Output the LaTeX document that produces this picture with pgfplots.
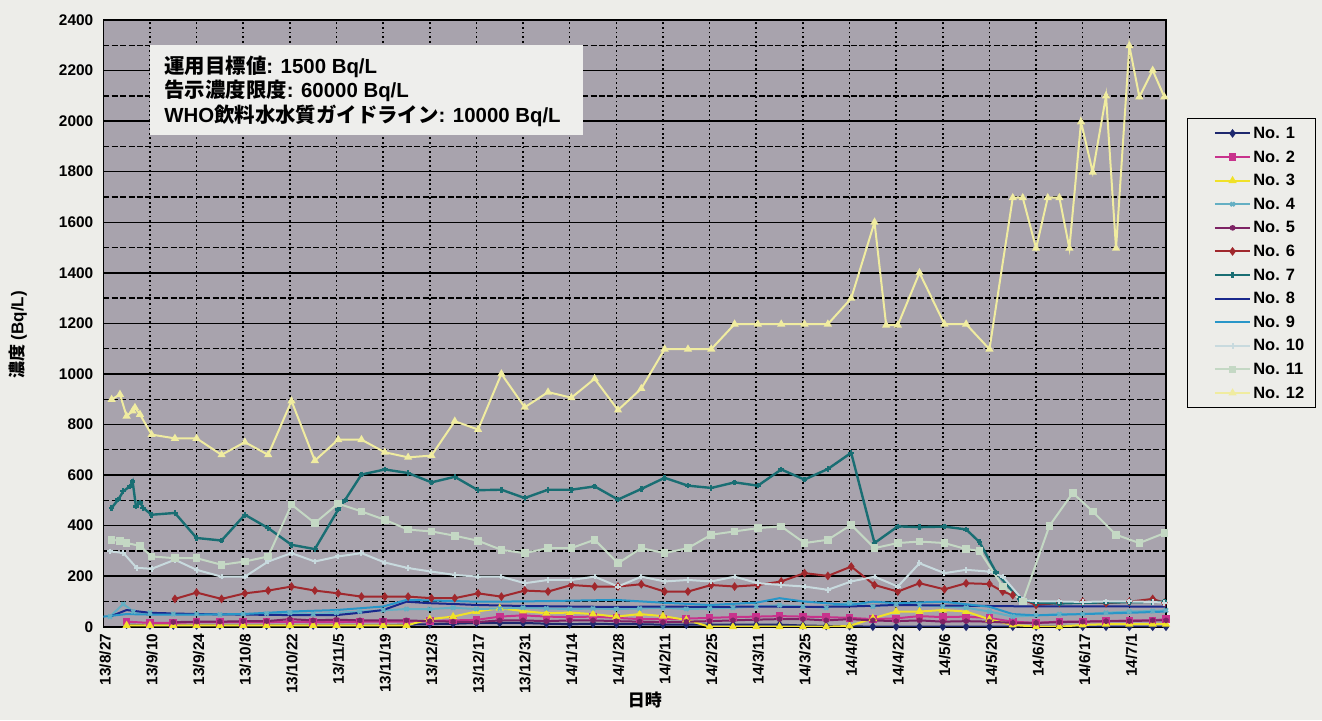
\documentclass[border=0pt]{standalone}
\usepackage{pgfplots}
\pgfplotsset{compat=1.18}
\usepackage{fontspec}
\setmainfont{Liberation Sans}
\newfontfamily\cjk{Noto Sans CJK JP}
\definecolor{paper}{RGB}{237,237,233}
\definecolor{plotbg}{RGB}{168,163,173}
\definecolor{boxbg}{RGB}{238,238,236}
\definecolor{cA}{RGB}{30,40,110}
\definecolor{cB}{RGB}{200,50,140}
\definecolor{cC}{RGB}{240,225,40}
\definecolor{cD}{RGB}{100,175,195}
\definecolor{cE}{RGB}{125,35,100}
\definecolor{cF}{RGB}{160,40,45}
\definecolor{cG}{RGB}{25,110,115}
\definecolor{cH}{RGB}{25,40,140}
\definecolor{cI}{RGB}{40,150,200}
\definecolor{cJ}{RGB}{200,218,222}
\definecolor{cK}{RGB}{196,216,196}
\definecolor{cL}{RGB}{240,236,160}
\begin{document}
\begin{tikzpicture}
\path[use as bounding box, fill=paper] (0,0) rectangle (661pt,-360pt);
\begin{axis}[
  at={(51.65pt,-313.35pt)}, anchor=south west,
  scale only axis, width=531.35pt, height=303.35pt,
  xmin=0, xmax=319, ymin=0, ymax=2400,
  axis background/.style={fill=plotbg},
  axis line style={black, line width=0.8pt},
  xtick={0,14,...,308},
  xticklabels={13/8/27,13/9/10,13/9/24,13/10/8,13/10/22,13/11/5,13/11/19,13/12/3,13/12/17,13/12/31,14/1/14,14/1/28,14/2/11,14/2/25,14/3/11,14/3/25,14/4/8,14/4/22,14/5/6,14/5/20,14/6/3,14/6/17,14/7/1},
  ytick={0,200,...,2400},
  minor y tick num=1,
  major tick length=0pt, minor tick length=0pt,
  ymajorgrids, yminorgrids, xmajorgrids,
  major grid style={black, line width=0.7pt},
  minor grid style={black, line width=0.65pt, dash pattern=on 3pt off 1.2pt},
  x grid style={black, line width=0.75pt, dash pattern=on 0.9pt off 1.4pt},
  scaled ticks=false,
  /pgf/number format/1000 sep={},
  /pgf/number format/assume math mode=true,
  tick label style={font=\bfseries\fontsize{7.7}{8}\selectfont},
  xticklabel style={rotate=90, anchor=east, yshift=-1pt},
  yticklabel style={xshift=-1.5pt},
  xlabel={\cjk\bfseries 日時},
  ylabel={{\cjk\bfseries 濃度} \bfseries(Bq/L)},
  label style={font=\fontsize{8.5}{9}\selectfont},
  xlabel style={at={(axis description cs:0.5097,-0.1208)}, anchor=center},
  ylabel style={at={(axis description cs:-0.0803,0.481)}, anchor=center, rotate=0},
  legend style={at={(axis description cs:1.0198,0.8385)}, anchor=north west,
    draw=black, line width=0.6pt, fill=paper, inner xsep=4.5pt, inner ysep=1.5pt,
    font=\bfseries\fontsize{8.2}{9}\selectfont,
    nodes={text height=6pt, text depth=1pt, inner ysep=2.4pt, inner xsep=1pt},
    row sep=0pt},
  legend cell align=left,
  legend image code/.code={\path (-0.3cm,0cm);
    \draw[mark repeat=2,mark phase=2,#1] plot coordinates {(0cm,0cm) (0.31cm,0cm) (0.62cm,0cm)};},
  every axis plot/.append style={line width=1pt, mark size=1.4pt},
]
% No. 1
\addplot[cA, mark=diamond*] coordinates {(7,8)(14,5)(21,5)(28,5)(35,5)(42,5)(49,5)(56,5)(63,5)(70,5)(77,5)(84,5)(91,8)(98,10)(105,12)(112,15)(119,15)(126,15)(133,12)(140,10)(147,12)(154,10)(161,10)(168,8)(175,8)(182,8)(189,8)(196,8)(203,8)(210,5)(217,3)(224,2)(231,0)(238,0)(245,0)(252,0)(259,0)(266,0)(273,0)(280,0)(287,0)(294,0)(301,0)(308,0)(315,0)(319,0)};
% No. 2
\addplot[cB, mark=square*] coordinates {(7,20)(14,15)(21,15)(28,18)(35,18)(42,18)(49,18)(56,20)(63,18)(70,18)(77,20)(84,20)(91,20)(98,22)(105,25)(112,27)(119,40)(126,45)(133,40)(140,38)(147,40)(154,35)(161,30)(168,30)(175,32)(182,35)(189,38)(196,40)(203,42)(210,40)(217,38)(224,35)(231,30)(238,33)(245,42)(252,38)(259,40)(266,34)(273,20)(280,15)(287,20)(294,20)(301,22)(308,25)(315,25)(319,30)};
% No. 3
\addplot[cC, mark=triangle*] coordinates {(7,5)(14,5)(21,5)(28,5)(35,5)(42,5)(49,5)(56,5)(63,5)(70,5)(77,5)(84,5)(91,5)(98,30)(105,40)(112,60)(119,73)(126,62)(133,53)(140,56)(147,50)(154,40)(161,50)(168,42)(175,27)(182,0)(189,0)(196,0)(203,0)(210,0)(217,0)(224,3)(231,33)(238,60)(245,60)(252,66)(259,60)(266,29)(273,7)(280,0)(287,0)(294,7)(301,10)(308,10)(315,10)(319,10)};
% No. 4
\addplot[cD, mark=x] coordinates {(2,40)(6,90)(9,60)(14,55)(21,50)(28,50)(35,48)(42,50)(49,52)(56,55)(63,50)(70,55)(77,60)(84,65)(91,70)(98,70)(105,75)(112,70)(119,72)(126,75)(133,72)(140,70)(147,72)(154,70)(161,72)(168,75)(175,70)(182,72)(189,75)(196,80)(203,85)(210,80)(217,75)(224,95)(231,80)(238,90)(245,85)(252,80)(259,75)(266,60)(273,40)(280,45)(287,50)(294,50)(301,55)(308,60)(315,62)(319,65)};
% No. 5
\addplot[cE, mark=asterisk] coordinates {(21,18)(28,20)(35,20)(42,22)(49,22)(56,30)(63,25)(70,28)(77,25)(84,25)(91,25)(98,22)(105,20)(112,18)(119,25)(126,25)(133,22)(140,25)(147,25)(154,22)(161,20)(168,18)(175,20)(182,22)(189,25)(196,28)(203,30)(210,30)(217,25)(224,30)(231,25)(238,22)(245,25)(252,20)(259,22)(266,20)(273,15)(280,15)(287,18)(294,20)(301,22)(308,22)(315,25)(319,25)};
% No. 6
\addplot[cF, mark=diamond*] coordinates {(21.5,110)(28,135)(35.5,110)(42.5,132)(49.5,143)(56.5,159)(63.5,143)(70.5,132)(77.5,119)(84.5,119)(91.5,119)(98.5,113)(105.5,113)(112.5,132)(119.5,119)(126.5,143)(133.5,139)(140.5,165)(147.5,159)(154.5,159)(161.5,168)(168.5,139)(175.5,139)(182.5,165)(189.5,159)(196.5,165)(203.5,179)(210.5,212)(217.5,201)(224.5,238)(231.5,165)(238.5,139)(245,172)(252.5,148)(259,172)(266,169)(270,139)(273,125)(280,86)(287,94)(294,99)(301,93)(308,99)(315,110)(318.5,95)};
% No. 7
\addplot[cG, mark=+, line width=1.2pt] coordinates {(2.5,470)(4.5,503)(6,536)(8,555)(8.8,575)(9.8,476)(11,492)(12,470)(14.5,443)(21.5,450)(28,351)(35.5,341)(42.5,443)(49.5,390)(56.5,324)(63.5,307)(70.5,463)(72.5,500)(77.5,602)(84.5,622)(91.5,608)(98.5,571)(105.5,593)(112.5,540)(119.5,542)(126.5,509)(133.5,542)(140.5,542)(147.5,555)(154.5,503)(161.5,545)(168.5,589)(175.5,558)(182.5,549)(189.5,571)(196.5,558)(203.5,622)(210.5,582)(217.5,624)(224.5,688)(231.5,331)(238.5,397)(245,394)(252.5,396)(259,385)(263,335)(268,215)(275,110)(280,95)(287,92)(294,95)(301,96)(308,97)(315,98)(318.5,99)};
% No. 8
\addplot[cH, mark=none] coordinates {(2,40)(7,66)(14,55)(28,50)(42,48)(56,46)(70,46)(77,55)(84,66)(91,99)(98,93)(105,90)(112,86)(126,82)(140,80)(154,78)(168,80)(182,78)(196,80)(210,78)(224,80)(238,86)(252,84)(266,82)(280,80)(294,80)(308,80)(319,79)};
% No. 9
\addplot[cI, mark=none] coordinates {(0,40)(7,50)(14,48)(28,48)(42,50)(56,60)(70,66)(84,80)(91,106)(98,104)(112,99)(126,100)(140,103)(154,106)(168,95)(182,86)(196,95)(203,113)(210,100)(224,86)(231,99)(238,93)(252,99)(266,79)(273,50)(280,45)(294,50)(308,55)(319,60)};
% No. 10
\addplot[cJ, mark=+] coordinates {(2,298)(6,292)(10,233)(14.5,229)(21.5,265)(28,225)(35.5,198)(42.5,198)(49.5,258)(56.5,291)(63.5,258)(70.5,278)(77.5,291)(84.5,254)(91.5,232)(98.5,218)(105.5,205)(112.5,198)(119.5,198)(126.5,172)(133.5,185)(140.5,185)(147.5,198)(154.5,159)(161.5,198)(168.5,179)(175.5,185)(182.5,179)(189.5,198)(196.5,172)(203.5,165)(210.5,159)(217.5,146)(224.5,179)(231.5,198)(238.5,159)(245,251)(252.5,212)(259,225)(266,218)(270,198)(276,106)(280,100)(287,100)(294,98)(301,100)(308,100)(315,98)(318.5,95)};
% No. 11
\addplot[cK, mark=square*] coordinates {(2.5,344)(5,340)(7,331)(11,320)(14.5,278)(21.5,271)(28,271)(35.5,245)(42.5,258)(49.5,278)(56.5,483)(63.5,410)(70.5,487)(77.5,456)(84.5,423)(91.5,384)(98.5,377)(105.5,360)(112.5,340)(119.5,304)(126.5,291)(133.5,311)(140.5,311)(147.5,344)(154.5,251)(161.5,311)(168.5,291)(175.5,311)(182.5,364)(189.5,377)(196.5,390)(203.5,397)(210.5,331)(217.5,344)(224.5,403)(231.5,311)(238.5,331)(245,337)(252.5,331)(259,307)(263,300)(270,159)(276,100)(284,399)(291,529)(297,456)(304,364)(311,331)(318.5,370)};
% No. 12
\addplot[cL, mark=triangle*] coordinates {(2.5,899)(5,919)(7,833)(8.8,853)(9.5,867)(11,840)(14.5,760)(21.5,745)(28,745)(35.5,680)(42.5,730)(49.5,680)(56.5,893)(63.5,657)(70.5,740)(77.5,740)(84.5,690)(91.5,670)(98.5,677)(105.5,813)(112.5,780)(119.5,1000)(126.5,868)(133.5,928)(140.5,906)(147.5,981)(154.5,857)(161.5,942)(168.5,1098)(175.5,1098)(182.5,1098)(189.5,1197)(196.5,1197)(203.5,1197)(210.5,1197)(217.5,1197)(224.5,1299)(231.5,1600)(235,1193)(238.5,1193)(245,1400)(252.5,1197)(259,1197)(266,1098)(273,1697)(276,1697)(280,1497)(283.5,1697)(287,1697)(290,1497)(293.5,1997)(297,1798)(301,2100)(304,1497)(308,2298)(311,2096)(315,2201)(318.5,2096)};
\legend{No. 1,No. 2,No. 3,No. 4,No. 5,No. 6,No. 7,No. 8,No. 9,No. 10,No. 11,No. 12}
\end{axis}
\fill[boxbg] (75pt,-22.5pt) rectangle (291.5pt,-67.5pt);
\node[anchor=west, inner sep=0pt, align=left,
  font=\bfseries\fontsize{10.2}{12.25}\selectfont] at (82pt,-45.5pt)
  {{\cjk 運用目標値}: 1500 Bq/L\\
   {\cjk 告示濃度限度}: 60000 Bq/L\\
   WHO{\cjk 飲料水水質ガイドライン}: 10000 Bq/L};
\end{tikzpicture}
\end{document}
